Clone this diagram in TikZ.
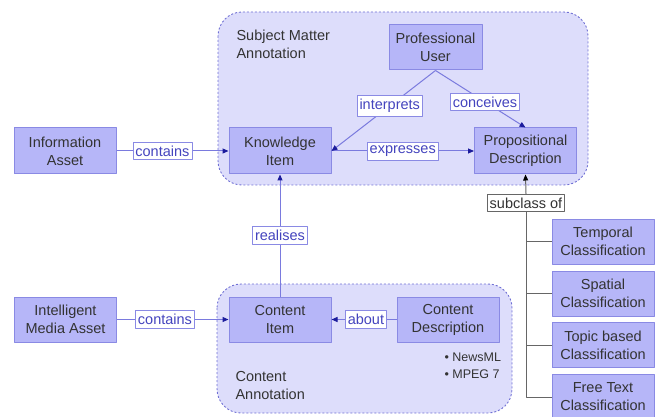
\documentclass[tikz,border=0pt]{standalone}
\usepackage{fontspec}
\setmainfont{Liberation Sans}
\usetikzlibrary{arrows.meta}
\definecolor{boxfill}{HTML}{B6B6F8}
\definecolor{boxline}{HTML}{8A8AE4}
\definecolor{areafill}{HTML}{DDDDFB}
\definecolor{arealine}{HTML}{7070D4}
\definecolor{linkline}{HTML}{7A7ADE}
\definecolor{linktext}{HTML}{4444BE}
\definecolor{tipcol}{HTML}{1C1C9C}
\begin{document}
\begin{tikzpicture}[x=1pt,y=-1pt,line join=round,>={Triangle[length=6pt,width=5pt]}]
	\tikzset{every node/.style={font=\fontsize{14.5}{18}\selectfont,text=black!80,align=center}}
	\tikzset{concept/.style={draw=boxline,fill=boxfill,line width=1pt,minimum width=102pt,minimum height=46pt,inner sep=1pt}}
	\tikzset{relation/.style={draw=boxline,fill=white,line width=0.8pt,text=linktext,inner xsep=2.5pt,inner ysep=3.5pt}}
	\tikzset{link/.style={draw=linkline,line width=1pt,-{Triangle[length=6pt,width=5pt,color=tipcol]}}}
	\tikzset{classline/.style={draw=black!60,line width=1pt}}
	\tikzset{area/.style={draw=arealine,fill=areafill,line width=0.9pt,dash pattern=on 2pt off 2pt,rounded corners=24pt}}
	\useasboundingbox (0,0) rectangle (659,417);
	% annotation areas
	\draw[area] (218,12) rectangle (588,185);
	\draw[area] (217,284) rectangle (512,413);
	\node[anchor=base west,align=left] (sma) at (233,59) {Subject Matter\\Annotation};
	\node[anchor=base west,align=left] (ca) at (232,399) {Content\\Annotation};
	% concepts
	\node[concept] (ia) at (65,151) {Information\\Asset};
	\node[concept] (ki) at (280,151) {Knowledge\\Item};
	\node[concept,minimum width=93pt,minimum height=45pt] (pu) at (435.5,47.5) {Professional\\User};
	\node[concept] (pd) at (525.5,151) {Propositional\\Description};
	\node[concept,minimum height=45pt] (ima) at (65.5,319.5) {Intelligent\\Media Asset};
	\node[concept,minimum height=45pt] (ci) at (280,319.5) {Content\\Item};
	\node[concept,minimum height=45pt] (cd) at (448,319.5) {Content\\Description};
	\node[anchor=base west,align=left,font=\fontsize{12.5}{17}\selectfont] (fmt) at (441,378) {\textbullet\ NewsML\\\textbullet\ MPEG 7};
	% classifications
	\node[concept,minimum height=45pt] (tc) at (603,241.5) {Temporal\\Classification};
	\node[concept,minimum height=45pt] (sc) at (603,293.5) {Spatial\\Classification};
	\node[concept,minimum height=45pt] (tbc) at (603,345) {Topic based\\Classification};
	\node[concept,minimum height=45pt] (ftc) at (603,397) {Free Text\\Classification};
	% relations
	\draw[link] (ia) -- node[relation,pos=0.41] {contains} (ki);
	\draw[link] (ima) -- node[relation,pos=0.43] {contains} (ci);
	\draw[link] (ki) -- node[relation] {expresses} (pd);
	\draw[link] (pu.south) -- node[relation,pos=0.44] {interprets} (ki.east);
	\draw[link] (pu.south) -- node[relation,pos=0.55] {conceives} (pd.north);
	\draw[link] (ci) -- node[relation] {realises} (ki);
	\draw[link] (cd) -- node[relation,pos=0.47] {about} (ci);
	% subclasses
	\node[draw=black!60,fill=white,line width=0.8pt,inner xsep=2.5pt,inner ysep=3.5pt] (sub) at (526,203) {subclass of};
	\draw[classline,-{Triangle[length=6pt,width=5pt,color=black]}] (sub.north) -- (pd.south);
	\foreach \c in {tc,sc,tbc,ftc}
	\draw[classline] (sub.south) |- (\c.west);
\end{tikzpicture}
\end{document}
